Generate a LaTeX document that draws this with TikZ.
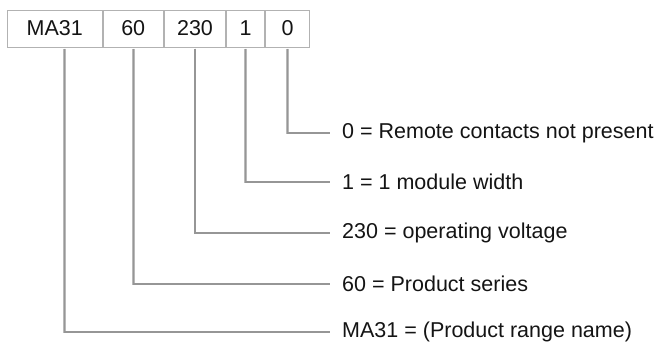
\documentclass[tikz,border=0pt]{standalone}
\usepackage{fontspec}
\setmainfont{Liberation Sans}
\definecolor{boxline}{RGB}{178,178,178}
\definecolor{connline}{RGB}{185,185,185}
\definecolor{conncore}{RGB}{150,150,150}
\definecolor{txt}{RGB}{20,20,20}
\begin{document}
\begin{tikzpicture}[x=1pt,y=-1pt,
  every node/.style={font=\fontsize{21.5}{24}\selectfont, text=txt},
  cell/.style={draw=boxline, line width=1pt, minimum height=37pt, inner sep=0pt, anchor=west},
  conn/.style={draw=connline, line width=2.6pt, postaction={draw=conncore, line width=1.1pt}},
  lbl/.style={anchor=west, inner sep=0pt, xshift=12pt}
]
\useasboundingbox (0,0) rectangle (662,341);
% code cells
\node[cell, minimum width=94.5pt] (cMA) at (7,28.5) {MA31};
\node[cell, minimum width=60.5pt] (c60) at (cMA.east) {60};
\node[cell, minimum width=61pt]   (c230) at (c60.east) {230};
\node[cell, minimum width=38pt]   (c1) at (c230.east) {1};
\node[cell, minimum width=44pt]   (c0) at (c1.east) {0};
% connector ends
\coordinate (e0) at (330,133);
\coordinate (e1) at (330,182);
\coordinate (e230) at (330,233);
\coordinate (e60) at (330,284);
\coordinate (eMA) at (330,332);
% labels
\node[lbl] (l0) at (e0) {0 = Remote contacts not present};
\node[lbl] (l1) at (e1) {1 = 1 module width};
\node[lbl] (l230) at (e230) {230 = operating voltage};
\node[lbl] (l60) at (e60) {60 = Product series};
\node[lbl] (lMA) at (eMA) {MA31 = (Product range name)};
% connectors
\draw[conn] ([yshift=-1pt]c0.south) |- (e0);
\draw[conn] ([yshift=-1pt]c1.south) |- (e1);
\draw[conn] ([yshift=-1pt]c230.south) |- (e230);
\draw[conn] ([yshift=-1pt]c60.south) |- (e60);
\draw[conn] ([xshift=10pt,yshift=-1pt]cMA.south) |- (eMA);
\end{tikzpicture}
\end{document}
